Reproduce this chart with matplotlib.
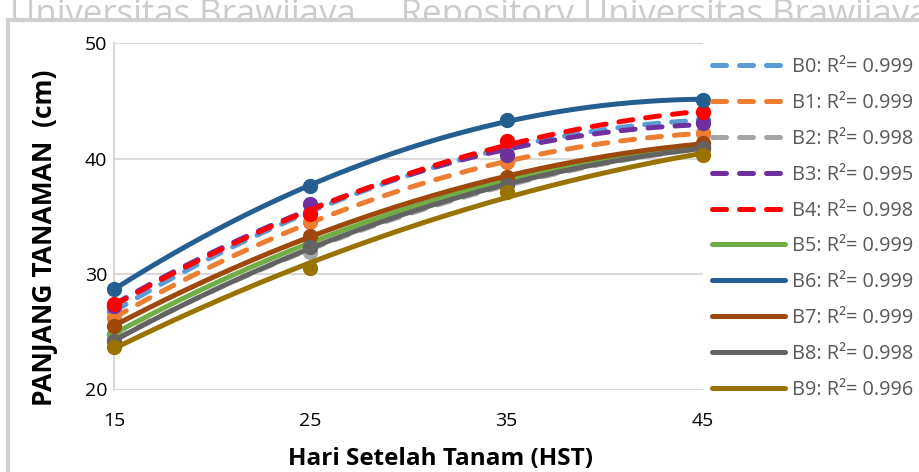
import numpy as np
import matplotlib
matplotlib.use("Agg")
import matplotlib.pyplot as plt
from matplotlib.patches import Rectangle

days = [15, 25, 35, 45]
series_names = ["B0", "B1", "B2", "B3", "B4", "B5", "B6", "B7", "B8", "B9"]
B0 = [26.8, 35.3, 41.0, 43.3]
B1 = [26.2, 34.5, 39.7, 42.2]
B2 = [24.4, 31.9, 37.9, 40.8]
B3 = [27.2, 36.1, 40.3, 43.1]
B4 = [27.4, 35.2, 41.5, 44.0]
B5 = [24.8, 32.8, 38.0, 41.0]
B6 = [28.7, 37.6, 43.3, 45.1]
B7 = [25.5, 33.3, 38.4, 41.3]
B8 = [24.2, 32.3, 37.7, 40.9]
B9 = [23.7, 30.5, 37.1, 40.3]
r2_labels = ["0.999", "0.999", "0.998", "0.995", "0.998",
             "0.999", "0.999", "0.999", "0.998", "0.996"]

values = [B0, B1, B2, B3, B4, B5, B6, B7, B8, B9]
colors = ["#5B9BD5", "#ED7D31", "#A5A5A5", "#7030A0", "#FF0000",
          "#70AD47", "#255E91", "#9E480E", "#636363", "#997300"]
dashed = [True, True, True, True, True, False, False, False, False, False]

plt.rcParams["font.family"] = ["Open Sans", "DejaVu Sans"]

fig = plt.figure(figsize=(9.2, 4.72), dpi=100)
W, H = 920, 472

# watermark (cut off at top) and chart frame
fig.text(10 / W, 1 - 15 / H, "Universitas Brawijaya     Repository Universitas Brawijaya",
         fontsize=25, color="#cccccc", ha="left", va="center", zorder=-3)
fig.patches.append(Rectangle((8 / W, -0.2), 1.2, 1.2 - 20 / H, transform=fig.transFigure,
                             facecolor="white", edgecolor="#d0d0d0", linewidth=3,
                             zorder=-2))

ax = fig.add_axes([114 / W, 1 - 389.5 / H, (703 - 114) / W, (389.5 - 43) / H])
ax.set_zorder(1)
ax.patch.set_alpha(0)

xs = np.linspace(15, 45, 200)
handles = []
for name, vals, c, d, r2 in zip(series_names, values, colors, dashed, r2_labels):
    coef = np.polyfit(days, vals, 2)
    ys = np.polyval(coef, xs)
    ax.plot(days, vals, "o", color=c, markersize=10, zorder=3, clip_on=False)
    if d:
        ln, = ax.plot(xs, ys, color=c, linewidth=3.6, linestyle=(0, (2.8, 2.6)),
                      dash_capstyle="round", zorder=3, clip_on=False,
                      label=f"{name}: R\u00b2= {r2}")
    else:
        ln, = ax.plot(xs, ys, color=c, linewidth=3.6, solid_capstyle="round",
                      zorder=3, clip_on=False, label=f"{name}: R\u00b2= {r2}")
    handles.append(ln)

ax.set_xlim(15, 45)
ax.set_ylim(20, 50)
ax.set_xticks([15, 25, 35, 45])
ax.set_yticks([20, 30, 40, 50])
ax.grid(axis="y", color="#d9d9d9", linewidth=1.5)
ax.set_axisbelow(True)
for s in ["top", "right", "bottom"]:
    ax.spines[s].set_visible(False)
ax.spines["left"].set_color("#d9d9d9")
ax.spines["left"].set_linewidth(1.5)
ax.tick_params(length=0, labelsize=14, colors="black")
ax.tick_params(axis="x", pad=16)
ax.tick_params(axis="y", pad=5)

ax.set_xlabel("Hari Setelah Tanam (HST)", fontsize=17.5, fontweight="bold")
ax.xaxis.set_label_coords((441 - 114) / (703 - 114), -(459 - 389.5) / (389.5 - 43))
ax.xaxis.label.set_va("center")
ax.set_ylabel("PANJANG TANAMAN  (cm)", fontsize=19, fontweight="bold")
ax.yaxis.set_label_coords(-(114 - 45) / (703 - 114), (389.5 - 238) / (389.5 - 43))
ax.yaxis.label.set_va("center")

leg = fig.legend(handles=handles, loc="upper left",
                 bbox_to_anchor=(712 / W, 1 - 57 / H), frameon=False,
                 fontsize=14.3, handlelength=3.7, handletextpad=0.35,
                 labelspacing=0.8, borderpad=0, borderaxespad=0)
for t in leg.get_texts():
    t.set_color("#595959")

fig.savefig("out.png", dpi=100)
